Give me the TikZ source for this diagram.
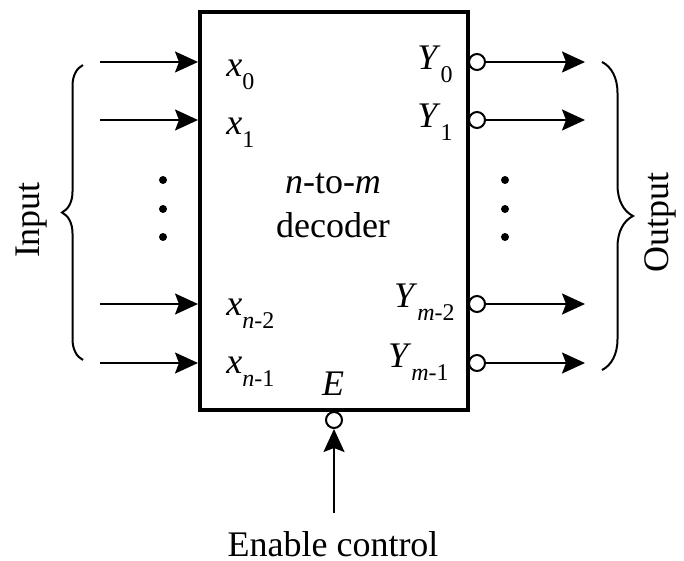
\documentclass[tikz,border=0pt]{standalone}
\usepackage{fontspec}
\setmainfont{Liberation Serif}
\usetikzlibrary{positioning,arrows.meta,decorations.pathreplacing}
\newcommand{\lowsub}[1]{\raisebox{-6.5pt}{\fontsize{12}{14}\selectfont #1}}

\begin{document}
\begin{tikzpicture}[x=0.5pt,y=-0.5pt,font=\fontsize{18}{21}\selectfont,
  decbox/.style={rectangle,draw,line width=2pt,minimum width=134pt,minimum height=199pt,inner sep=0pt},
  bub/.style={circle,draw,line width=1pt,fill=white,minimum size=8pt,inner sep=0pt},
  sig/.style={-{Stealth[length=11.5pt,width=10.5pt,inset=2pt]},line width=1pt},
  lbl/.style={inner sep=0pt},
  brc/.style={decorate,line width=1pt}]
  \useasboundingbox (0,0) rectangle (684,561);
  \node[decbox] (dec) at (334,211) {};
  \node[lbl,anchor=base] (ttl1) at (333,193) {\textit{n}-to-\textit{m}};
  \node[lbl,anchor=base] (ttl2) at (333,237) {decoder};
  % inputs
  \foreach \yy/\nm in {62/0,120/1,304/2,363/3} {
    \coordinate (in\nm) at (100,\yy);
    \draw[sig] (in\nm) -- (in\nm -| dec.west);
  }
  \node[lbl,anchor=base west] (lx0) at (226,77) {\textit{x}\lowsub{0}};
  \node[lbl,anchor=base west] (lx1) at (226,135) {\textit{x}\lowsub{1}};
  \node[lbl,anchor=base west] (lx2) at (226,315) {\textit{x}\lowsub{\textit{n}-2}};
  \node[lbl,anchor=base west] (lx3) at (226,373) {\textit{x}\lowsub{\textit{n}-1}};
  % outputs
  \foreach \yy/\nm in {62/0,120/1,304/2,363/3} {
    \node[bub] (b\nm) at (477,\yy) {};
    \coordinate (out\nm) at (585,\yy);
    \draw[sig] (b\nm) -- (out\nm);
  }
  \node[lbl,anchor=base east] (ly0) at (453,70) {\textit{Y}\lowsub{0}};
  \node[lbl,anchor=base east] (ly1) at (453,128) {\textit{Y}\lowsub{1}};
  \node[lbl,anchor=base east] (ly2) at (455,307) {\textit{Y}\lowsub{\textit{m}-2}};
  \node[lbl,anchor=base east] (ly3) at (449,367) {\textit{Y}\lowsub{\textit{m}-1}};
  % enable
  \node[bub] (be) at (334,420) {};
  \coordinate (en) at (334,513);
  \draw[sig] (en) -- (be);
  \node[lbl,anchor=base] (le) at (333,395) {\textit{E}};
  \node[lbl,anchor=base] (enc) at (333,556) {Enable control};
  % dots
  \foreach \yy in {180,209,237} {
    \fill (163,\yy) circle (4);
    \fill (505,\yy) circle (4);
  }
  % braces
  \draw[brc,decoration={brace,amplitude=10.5pt}] (83,360) -- (83,65);
  \draw[brc,decoration={brace,amplitude=15.5pt}] (602,62) -- (602,370);
  \node[rotate=90] (inp) at (32,220) {Input};
  \node[rotate=90] (outp) at (660,222) {Output};
\end{tikzpicture}
\end{document}
